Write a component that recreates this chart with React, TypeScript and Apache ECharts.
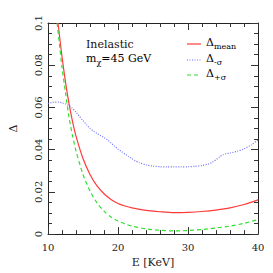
import React, { useEffect, useRef } from "react";
import * as echarts from "echarts";

const meanE = [11.43, 12, 12.5, 13, 13.5, 14, 15, 16, 17, 18, 19, 20, 21, 22, 24, 26, 28, 30, 32, 34, 36, 38, 40];
const meanV = [0.1, 0.084, 0.072, 0.0618, 0.0534, 0.0464, 0.0358, 0.0282, 0.0228, 0.0191, 0.0164, 0.0145, 0.0133, 0.0124, 0.0112, 0.0106, 0.0102, 0.0103, 0.0107, 0.0114, 0.0124, 0.014, 0.0162];

const minusE = [10, 10.5, 11, 11.5, 12, 12.5, 13, 13.5, 14, 14.5, 15, 15.5, 16, 16.5, 17, 17.5, 18, 18.5, 19, 19.5, 20, 20.5, 21, 21.5, 22, 22.5, 23, 24, 25, 26, 27, 28, 29, 30, 31, 32, 33, 33.5, 34, 34.5, 35, 35.5, 36, 37, 38, 39, 40];
const minusV = [0.0618, 0.0623, 0.0625, 0.0625, 0.0622, 0.0617, 0.0608, 0.0595, 0.0578, 0.0558, 0.0538, 0.0518, 0.0501, 0.0488, 0.0477, 0.0467, 0.0457, 0.0446, 0.0432, 0.0417, 0.0403, 0.0391, 0.0379, 0.0368, 0.0357, 0.0347, 0.0339, 0.0328, 0.0322, 0.0319, 0.0318, 0.0318, 0.0318, 0.0319, 0.0321, 0.0325, 0.0333, 0.0341, 0.0352, 0.0365, 0.0376, 0.0381, 0.0384, 0.0392, 0.0404, 0.0422, 0.0445];

const plusE = [11.3, 11.7, 12, 12.5, 13, 13.5, 14, 15, 16, 17, 18, 19, 20, 21, 22, 24, 26, 28, 30, 32, 34, 36, 38, 40];
const plusV = [0.1, 0.088, 0.079, 0.067, 0.0554, 0.0467, 0.0394, 0.0282, 0.0204, 0.0148, 0.0109, 0.0081, 0.0062, 0.0048, 0.0038, 0.0025, 0.0018, 0.0015, 0.0017, 0.0022, 0.0029, 0.0038, 0.0051, 0.0069];

const xTicks = [10, 20, 30, 40];
const yTicks = [0, 0.02, 0.04, 0.06, 0.08, 0.1];

const zip = (a: number[], b: number[]) => a.map((x, i) => [x, b[i]]);

const FONT = "DejaVu Serif";
const RED = "#ff3b3b";
const BLUE = "#6f6fff";
const GREEN = "#2fe02f";

export default function App() {
  const ref = useRef<HTMLDivElement>(null);
  useEffect(() => {
    if (!ref.current) return;
    const chart = echarts.init(ref.current, null, { renderer: "svg" });
    const axisCommon = {
      axisLine: { show: true, onZero: false, lineStyle: { color: "#222", width: 1 } },
      axisTick: { show: true, inside: true, length: 7, lineStyle: { color: "#333" } },
      splitLine: { show: false },
    };
    const sub = { fontFamily: FONT, fontSize: 8, color: "#111", padding: [7, 0, 0, 0] };
    const big = { fontFamily: FONT, fontSize: 11, color: "#111" };
    chart.setOption({
      animation: false,
      backgroundColor: "#fff",
      grid: { left: 42, right: 15, top: 23, bottom: 34 },
      xAxis: [
        {
          type: "value", min: 10, max: 40, interval: 10, position: "bottom",
          ...axisCommon,
          minorTick: { show: true, splitNumber: 5, length: 4, lineStyle: { color: "#333" } },
          axisLabel: { show: true, fontFamily: FONT, fontSize: 10, color: "#222", margin: 8,
            formatter: (v: number) => (xTicks.includes(v) ? String(v) : "") },
          name: "E [KeV]", nameLocation: "middle", nameGap: 21,
          nameTextStyle: { fontFamily: FONT, fontSize: 11, color: "#222" },
        },
        {
          type: "value", min: 10, max: 40, interval: 10, position: "top",
          ...axisCommon,
          minorTick: { show: true, splitNumber: 5, length: 4, lineStyle: { color: "#333" } },
          axisLabel: { show: false },
        },
      ],
      yAxis: [
        {
          type: "value", min: 0, max: 0.1, interval: 0.02, position: "left",
          ...axisCommon,
          minorTick: { show: true, splitNumber: 4, length: 4, lineStyle: { color: "#333" } },
          axisLabel: { show: true, fontFamily: FONT, fontSize: 10, color: "#222", rotate: 90, margin: 5,
            formatter: (v: number) => {
              const r = Math.round(v * 100) / 100;
              const hit = yTicks.find((t) => Math.abs(t - r) < 1e-9);
              return hit === undefined ? "" : String(hit);
            } },
          name: "Δ", nameLocation: "middle", nameGap: 29, nameRotate: 90,
          nameTextStyle: { fontFamily: FONT, fontSize: 11, color: "#222" },
        },
        {
          type: "value", min: 0, max: 0.1, interval: 0.02, position: "right",
          ...axisCommon,
          minorTick: { show: true, splitNumber: 4, length: 4, lineStyle: { color: "#333" } },
          axisLabel: { show: false },
        },
      ],
      series: [
        { type: "line", name: "mean", data: zip(meanE, meanV), smooth: 0.25, showSymbol: false, clip: true,
          lineStyle: { color: RED, width: 1.2 } },
        { type: "line", name: "minus", data: zip(minusE, minusV), smooth: 0.25, showSymbol: false, clip: true,
          lineStyle: { color: BLUE, width: 1.2, type: [1, 1.5] } },
        { type: "line", name: "plus", data: zip(plusE, plusV), smooth: 0.25, showSymbol: false, clip: true,
          lineStyle: { color: GREEN, width: 1.2, type: [4, 3] } },
      ],
      graphic: [
        { type: "text", left: 86, top: 39, style: { text: "Inelastic", font: `11px '${FONT}'`, fill: "#111" } },
        { type: "text", left: 86, top: 53, style: { text: "{n|m}{s|χ}{n|=45 GeV}", rich: { n: big, s: sub } } },
        { type: "line", shape: { x1: 187, y1: 44, x2: 201, y2: 44 }, style: { stroke: RED, lineWidth: 1.2 } },
        { type: "line", shape: { x1: 187, y1: 60, x2: 201, y2: 60 }, style: { stroke: BLUE, lineWidth: 1.2, lineDash: [1, 1.5] } },
        { type: "line", shape: { x1: 187, y1: 75, x2: 201, y2: 75 }, style: { stroke: GREEN, lineWidth: 1.2, lineDash: [4, 3] } },
        { type: "text", left: 206, top: 37, style: { text: "{n|Δ}{s|mean}", rich: { n: big, s: sub } } },
        { type: "text", left: 206, top: 53, style: { text: "{n|Δ}{s|-σ}", rich: { n: big, s: sub } } },
        { type: "text", left: 206, top: 68, style: { text: "{n|Δ}{s|+σ}", rich: { n: big, s: sub } } },
      ],
    });
    return () => chart.dispose();
  }, []);
  return <div ref={ref} style={{ position: "fixed", left: 0, top: 0, width: 273, height: 273 }} />;
}
